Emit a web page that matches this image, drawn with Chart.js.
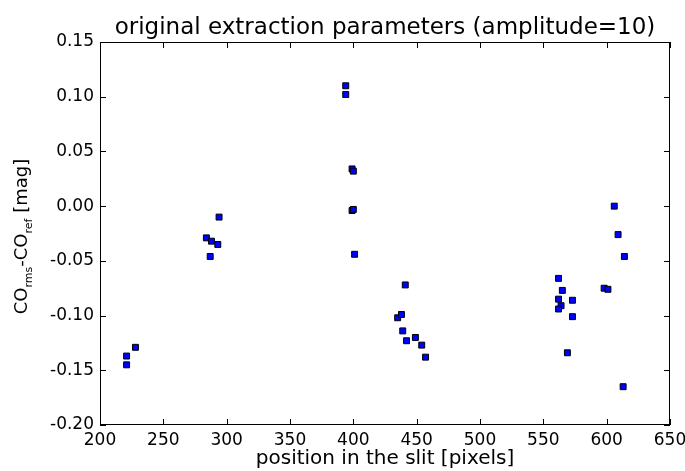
<!DOCTYPE html>
<html>
<head>
<meta charset="utf-8">
<script src="https://cdn.jsdelivr.net/npm/chart.js@4.4.1/dist/chart.umd.min.js"></script>
<style>
  body { margin: 0; background: #fff; }
</style>
</head>
<body>
<canvas id="offsetChart" width="685" height="471"></canvas>
<script>
// slit position (pixels) and magnitude offset CO_rms - CO_ref
const slitPos = [
  221, 221, 228,
  284, 288, 287, 293, 294,
  394, 394, 399, 400, 399, 400, 401,
  435, 438, 439, 441, 442, 449, 454, 457,
  562, 565, 562, 573, 564, 562, 573, 598, 601, 569, 606, 609, 614, 613
];
const magDiff = [
  -0.137, -0.145, -0.129,
  -0.029, -0.032, -0.046, -0.035, -0.010,
  0.110, 0.102, 0.034, 0.032, -0.004, -0.003, -0.044,
  -0.102, -0.099, -0.114, -0.072, -0.123, -0.120, -0.127, -0.138,
  -0.066, -0.077, -0.085, -0.086, -0.091, -0.094, -0.101, -0.075, -0.076, -0.134, 0.000, -0.026, -0.046, -0.165
];
const xMin = 200, xMax = 650, xStep = 50;
const yMin = -0.20, yMax = 0.15, yStep = 0.05;
const chartTitle = 'original extraction parameters (amplitude=10)';

const FONT = "'DejaVu Sans', sans-serif";

// matplotlib style frame + inward ticks + title + y label with subscripts
const frameTicks = {
  id: 'frameTicks',
  afterDraw(chart) {
    const ctx = chart.ctx;
    const a = chart.chartArea;
    const xs = chart.scales.x, ys = chart.scales.y;
    ctx.save();
    ctx.strokeStyle = '#000';
    ctx.lineWidth = 1;
    ctx.strokeRect(Math.round(a.left) + 0.5, Math.round(a.top) + 0.5,
                   Math.round(a.right - a.left) - 1, Math.round(a.bottom - a.top) - 1);
    ctx.beginPath();
    xs.ticks.forEach(t => {
      const px = Math.round(xs.getPixelForValue(t.value)) + 0.5;
      ctx.moveTo(px, a.bottom); ctx.lineTo(px, a.bottom - 6);
      ctx.moveTo(px, a.top); ctx.lineTo(px, a.top + 6);
    });
    ys.ticks.forEach(t => {
      const py = Math.round(ys.getPixelForValue(t.value)) + 0.5;
      ctx.moveTo(a.left, py); ctx.lineTo(a.left + 6, py);
      ctx.moveTo(a.right, py); ctx.lineTo(a.right - 6, py);
    });
    ctx.stroke();

    // title centred over the plot
    ctx.fillStyle = '#000';
    ctx.font = '23px ' + FONT;
    ctx.textAlign = 'center';
    ctx.textBaseline = 'alphabetic';
    ctx.fillText(chartTitle, (a.left + a.right) / 2, a.top - 8);

    // y axis label: CO_rms-CO_ref [mag]
    ctx.textAlign = 'left';
    const parts = [
      ['CO', 18, 0], ['rms', 11, 5], ['-CO', 18, 0], ['ref', 11, 5], [' [mag]', 18, 0]
    ];
    let total = 0;
    parts.forEach(p => { ctx.font = p[1] + 'px ' + FONT; total += ctx.measureText(p[0]).width; });
    ctx.translate(20, (a.top + a.bottom) / 2 + 3);
    ctx.rotate(-Math.PI / 2);
    let x = -total / 2;
    parts.forEach(p => {
      ctx.font = p[1] + 'px ' + FONT;
      ctx.fillText(p[0], x, 7 + p[2]);
      x += ctx.measureText(p[0]).width;
    });
    ctx.restore();
  }
};

const ctx = document.getElementById('offsetChart').getContext('2d');
const chart = new Chart(ctx, {
  type: 'scatter',
  data: {
    datasets: [{
      data: slitPos.map((x, i) => ({ x: x, y: magDiff[i] })),
      pointStyle: 'rect',
      pointRadius: 4.2,
      pointHoverRadius: 4.2,
      backgroundColor: '#0000ff',
      borderColor: '#000000',
      borderWidth: 1
    }]
  },
  options: {
    responsive: false,
    animation: false,
    layout: { padding: { left: 0, right: 15, top: 42, bottom: 0 } },
    plugins: {
      legend: { display: false },
      tooltip: { enabled: false },
      title: { display: false }
    },
    scales: {
      x: {
        type: 'linear',
        min: xMin, max: xMax,
        grid: { display: false, drawTicks: false },
        border: { display: false },
        ticks: {
          stepSize: xStep, color: '#000', padding: 5,
          font: { family: FONT, size: 17 },
          maxRotation: 0
        },
        title: {
          display: true,
          text: 'position in the slit [pixels]',
          color: '#000',
          font: { family: FONT, size: 20 },
          padding: { top: 0, bottom: 0 }
        },
        afterFit(scale) { scale.height = 46; scale.paddingLeft = 0; scale.paddingRight = 0; }
      },
      y: {
        type: 'linear',
        min: yMin, max: yMax,
        grid: { display: false, drawTicks: false },
        border: { display: false },
        ticks: {
          stepSize: yStep, color: '#000', padding: 6,
          font: { family: FONT, size: 17 },
          callback: v => (Math.abs(v) < 1e-9 ? 0 : v).toFixed(2)
        },
        afterFit(scale) { scale.width = 100; scale.paddingTop = 0; scale.paddingBottom = 0; }
      }
    }
  },
  plugins: [frameTicks]
});
</script>
</body>
</html>
